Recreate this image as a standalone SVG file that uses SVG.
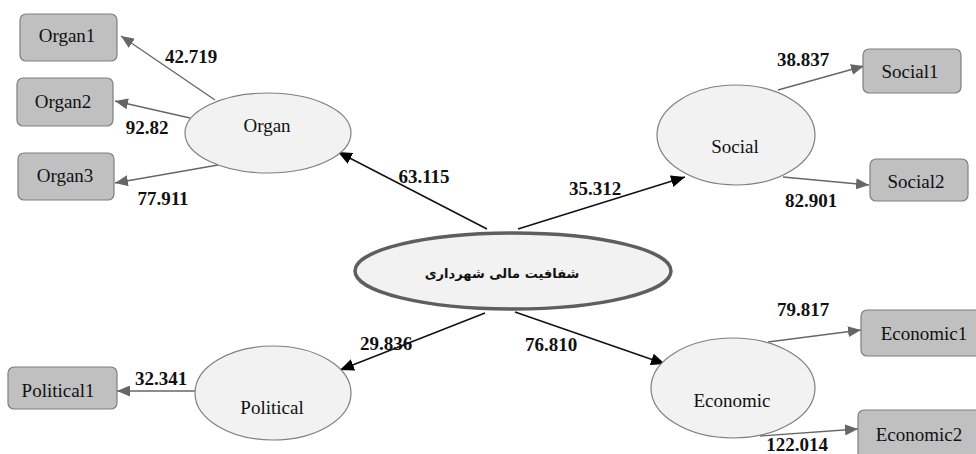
<svg xmlns="http://www.w3.org/2000/svg" width="976" height="454" viewBox="0 0 976 454">
<defs>
<marker id="ag" markerUnits="userSpaceOnUse" markerWidth="13" markerHeight="11" refX="13" refY="5.5" orient="auto"><path d="M0,0 L13,5.5 L0,11 z" fill="#666"/></marker>
<marker id="ab" markerUnits="userSpaceOnUse" markerWidth="14" markerHeight="12" refX="14" refY="6" orient="auto"><path d="M0,0 L14,6 L0,12 z" fill="#000"/></marker>
</defs>
<style>
.box{fill:#c0c0c0;stroke:#7f7f7f;stroke-width:1.2}
.ell{fill:#f2f2f2;stroke:#7f7f7f;stroke-width:1.2}
.t{font-family:"Liberation Serif",serif;font-size:19px;fill:#111;text-anchor:middle}
.n{font-family:"Liberation Serif",serif;font-size:19px;font-weight:bold;fill:#111;text-anchor:middle}
.g{stroke:#666;stroke-width:1.3;fill:none;marker-end:url(#ag)}
.b{stroke:#111;stroke-width:1.5;fill:none;marker-end:url(#ab)}
</style>
<rect width="976" height="454" fill="#fff"/>
<g id="connectors">
<line class="g" x1="215" y1="100" x2="121" y2="36"/>
<line class="g" x1="190" y1="118" x2="115" y2="101"/>
<line class="g" x1="218" y1="165" x2="115" y2="183"/>
<line class="g" x1="778" y1="90" x2="864" y2="66"/>
<line class="g" x1="783" y1="177" x2="869" y2="185"/>
<line class="g" x1="195" y1="391" x2="117" y2="391"/>
<line class="g" x1="768" y1="342" x2="861" y2="330"/>
<line class="g" x1="760" y1="436" x2="858" y2="429"/>
<line class="b" x1="487" y1="229" x2="338" y2="152"/>
<line class="b" x1="518" y1="229" x2="685" y2="177"/>
<line class="b" x1="485" y1="313" x2="340" y2="370"/>
<line class="b" x1="515" y1="312" x2="665" y2="364"/>
<text class="n" x="191" y="63">42.719</text>
<text class="n" x="147" y="134">92.82</text>
<text class="n" x="163" y="205">77.911</text>
<text class="n" x="424" y="183">63.115</text>
<text class="n" x="595" y="195">35.312</text>
<text class="n" x="803" y="66">38.837</text>
<text class="n" x="811" y="207">82.901</text>
<text class="n" x="386" y="350">29.836</text>
<text class="n" x="161" y="385">32.341</text>
<text class="n" x="551" y="351">76.810</text>
<text class="n" x="803" y="316">79.817</text>
<text class="n" x="797" y="451">122.014</text>
</g>
<g id="organ1"><rect class="box" x="20" y="14" width="97" height="47" rx="6"/><text class="t" x="67" y="42">Organ1</text></g>
<g id="organ2"><rect class="box" x="17" y="78" width="96" height="48" rx="6"/><text class="t" x="63" y="108">Organ2</text></g>
<g id="organ3"><rect class="box" x="18" y="153" width="96" height="47" rx="6"/><text class="t" x="65" y="182">Organ3</text></g>
<g id="organ"><ellipse class="ell" cx="268" cy="133" rx="83" ry="40"/><text class="t" x="267" y="132">Organ</text></g>
<g id="social"><ellipse class="ell" cx="736" cy="135" rx="79" ry="50"/><text class="t" x="735" y="153">Social</text></g>
<g id="social1"><rect class="box" x="863" y="49" width="98" height="44" rx="6"/><text class="t" x="910" y="78">Social1</text></g>
<g id="social2"><rect class="box" x="870" y="159" width="98" height="42" rx="6"/><text class="t" x="916" y="188">Social2</text></g>
<g id="center"><ellipse cx="513" cy="271" rx="158" ry="38" fill="#f2f2f2" stroke="#5e5e5e" stroke-width="3.5"/><text x="502" y="278" font-family="DejaVu Sans, sans-serif" font-size="13" font-weight="bold" fill="#111" text-anchor="middle" direction="rtl">شفافیت مالی شهرداری</text></g>
<g id="political"><ellipse class="ell" cx="273" cy="393" rx="78" ry="47"/><text class="t" x="272" y="414">Political</text></g>
<g id="political1"><rect class="box" x="8" y="367" width="109" height="42" rx="6"/><text class="t" x="58" y="397">Political1</text></g>
<g id="economic"><ellipse class="ell" cx="733" cy="388" rx="82" ry="50"/><text class="t" x="732" y="407">Economic</text></g>
<g id="economic1"><rect class="box" x="861" y="310" width="125" height="46" rx="6"/><text class="t" x="924" y="340">Economic1</text></g>
<g id="economic2"><rect class="box" x="858" y="410" width="125" height="50" rx="6"/><text class="t" x="919" y="441">Economic2</text></g>
</svg>
